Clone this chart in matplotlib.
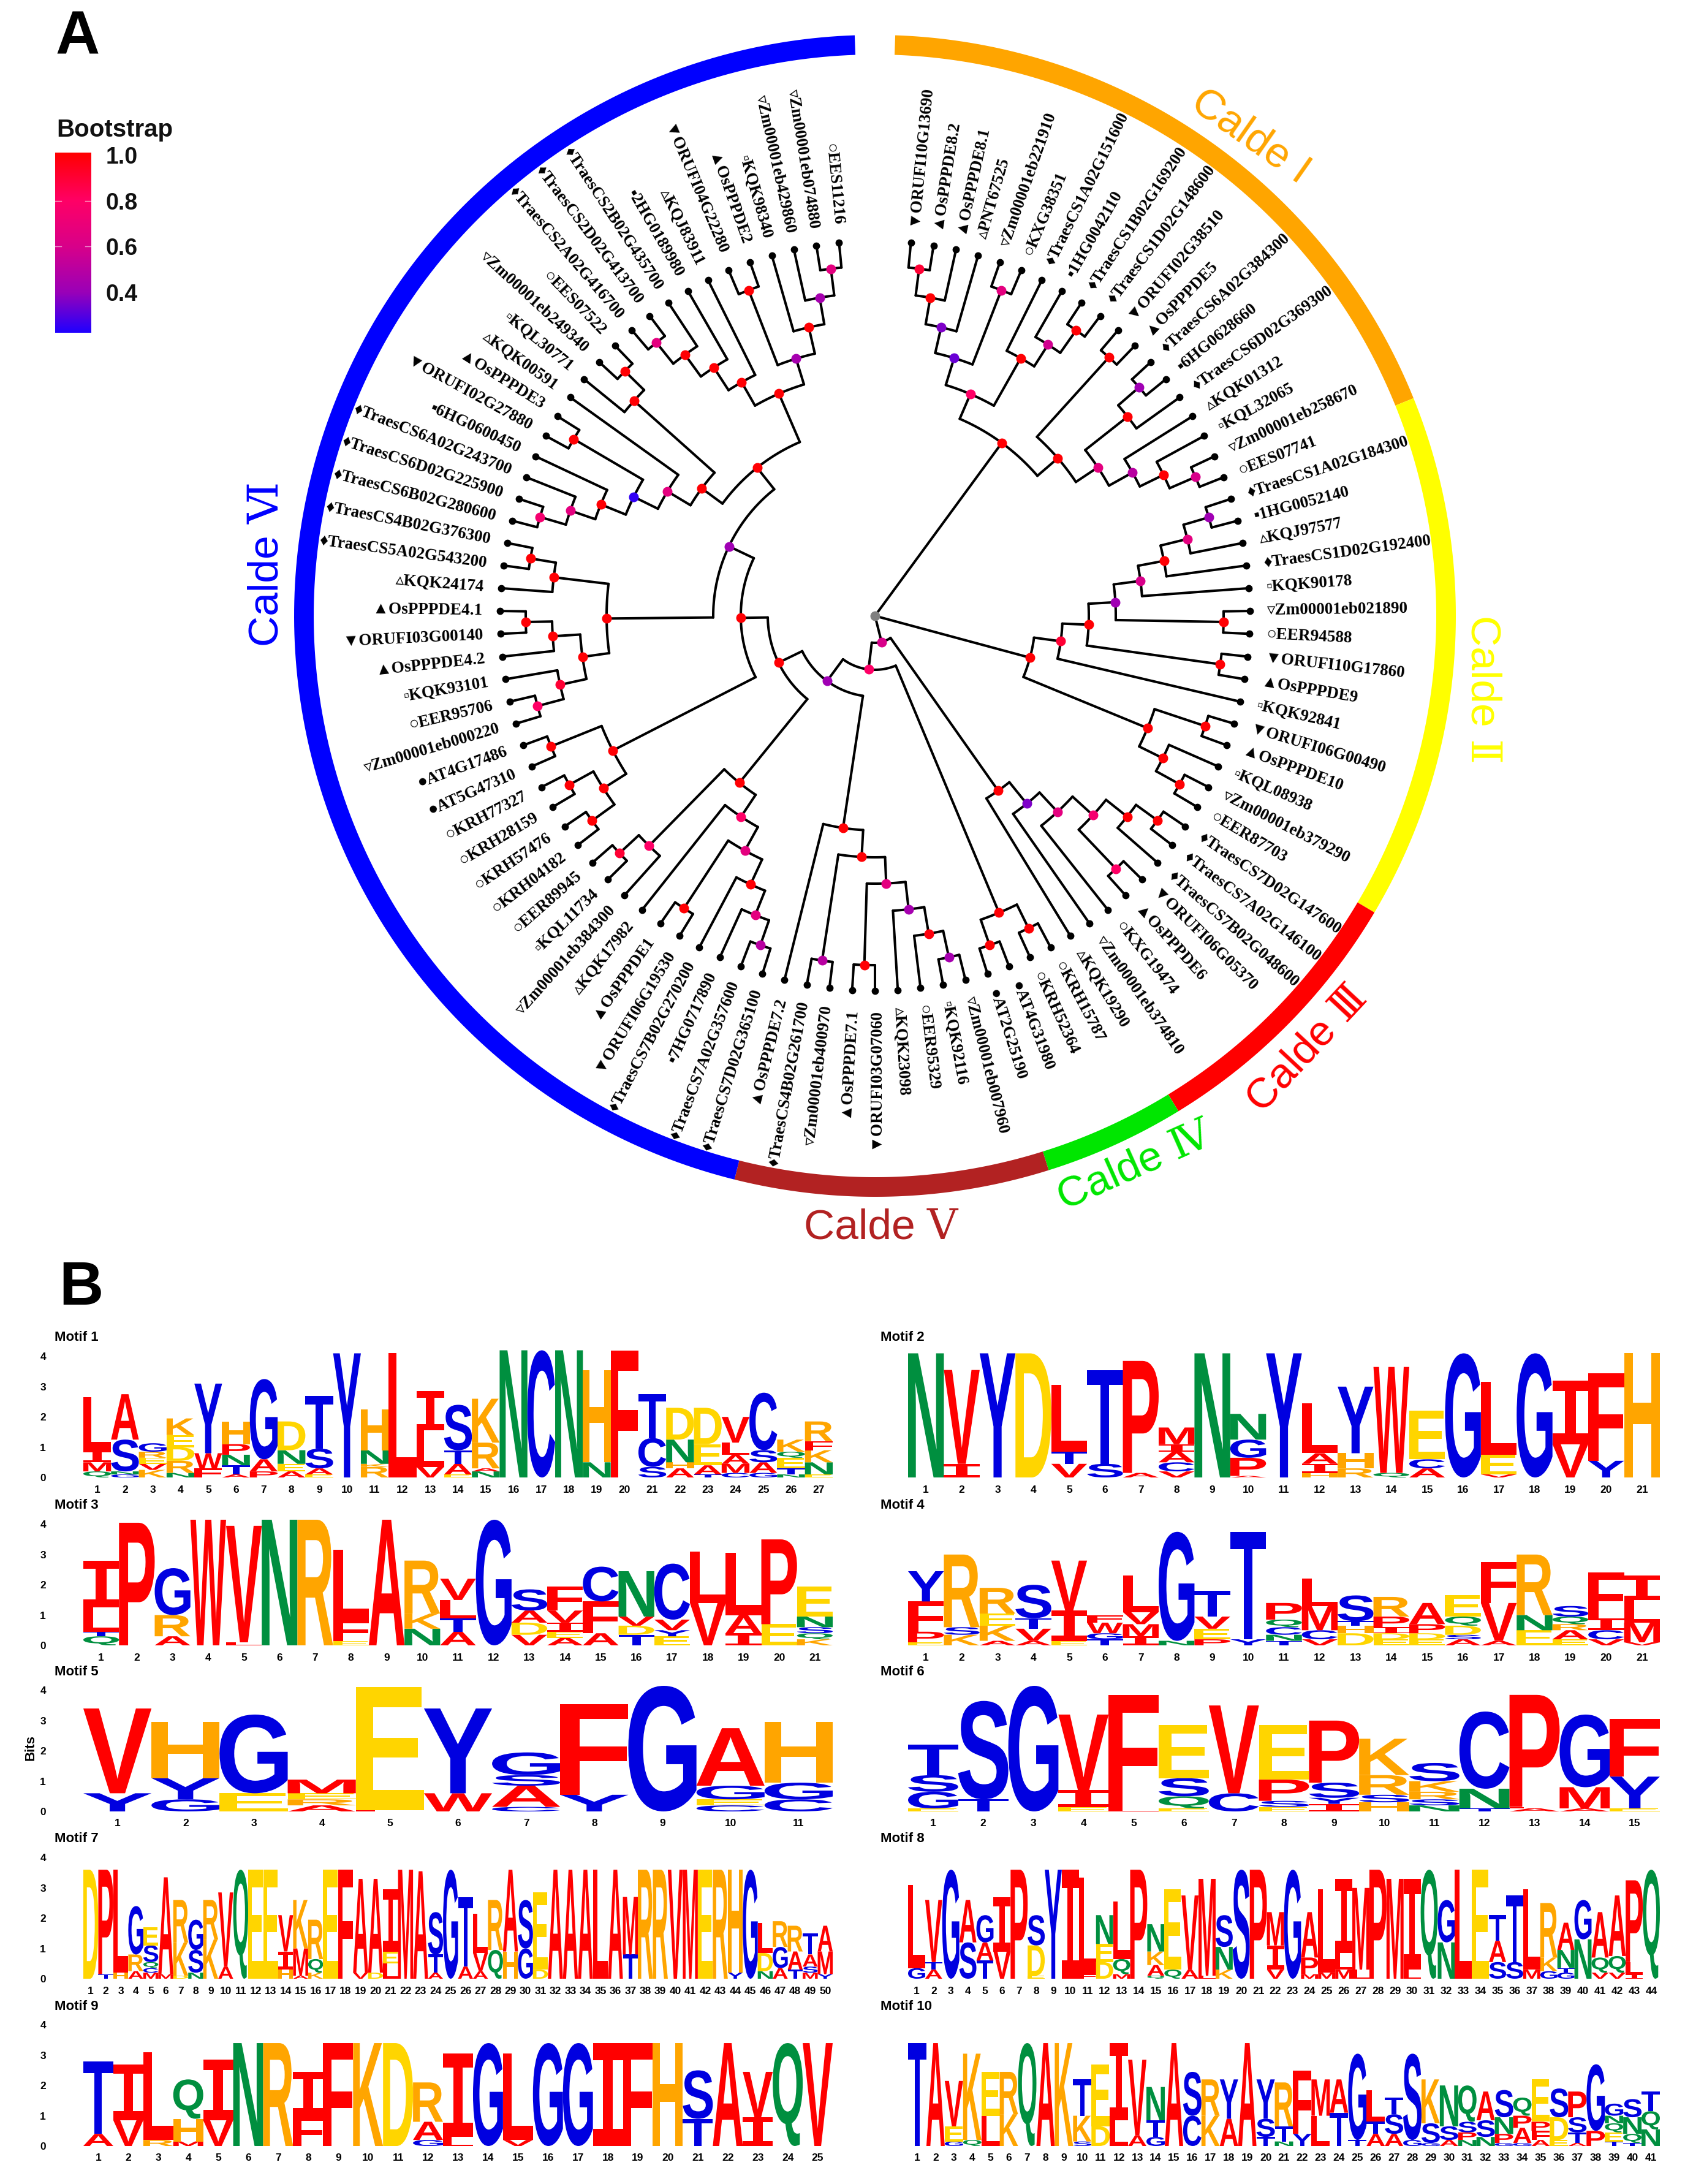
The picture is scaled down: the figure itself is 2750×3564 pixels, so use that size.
import numpy as np
import matplotlib
matplotlib.use("Agg")
import matplotlib.pyplot as plt
from matplotlib.colors import LinearSegmentedColormap
from matplotlib.font_manager import FontProperties
from matplotlib.patches import PathPatch
from matplotlib.textpath import TextPath
from matplotlib.transforms import Affine2D

W, H = 2750, 3564

# tree tips, clockwise from the top
leaf_labels = [
    "▼ORUFI10G13690", "▲OsPPPDE8.2", "▲OsPPPDE8.1", "▵PNT67525", "▿Zm00001eb221910", "○KXG38351",
    "♦TraesCS1A02G151600", "▪1HG0042110", "♦TraesCS1B02G169200", "♦TraesCS1D02G148600",
    "▼ORUFI02G38510", "▲OsPPPDE5", "♦TraesCS6A02G384300", "▪6HG0628660", "♦TraesCS6D02G369300",
    "▵KQK01312", "▫KQL32065", "▿Zm00001eb258670", "○EES07741",
    "♦TraesCS1A02G184300", "▪1HG0052140", "▵KQJ97577", "♦TraesCS1D02G192400", "▫KQK90178",
    "▿Zm00001eb021890", "○EER94588", "▼ORUFI10G17860", "▲OsPPPDE9", "▫KQK92841", "▼ORUFI06G00490",
    "▲OsPPPDE10", "▫KQL08938", "▿Zm00001eb379290", "○EER87703",
    "♦TraesCS7D02G147600", "♦TraesCS7A02G146100", "♦TraesCS7B02G048600", "▼ORUFI06G05370",
    "▲OsPPPDE6", "○KXG19474", "▿Zm00001eb374810", "▵KQK19290", "○KRH15787", "○KRH52364",
    "●AT4G31980", "●AT2G25190", "▿Zm00001eb007960",
    "▫KQK92116", "○EER95329", "▵KQK23098", "▼ORUFI03G07060", "▲OsPPPDE7.1", "▿Zm00001eb400970",
    "♦TraesCS4B02G261700", "▲OsPPPDE7.2", "♦TraesCS7D02G365100", "♦TraesCS7A02G357600",
    "▪7HG0717890", "♦TraesCS7B02G270200", "▼ORUFI06G19530", "▲OsPPPDE1", "▵KQK17982",
    "▿Zm00001eb384300", "▫KQL11734", "○EER89945", "○KRH04182", "○KRH57476", "○KRH28159",
    "○KRH77327", "●AT5G47310", "●AT4G17486", "▿Zm00001eb000220", "○EER95706", "▫KQK93101",
    "▲OsPPPDE4.2", "▼ORUFI03G00140", "▲OsPPPDE4.1", "▵KQK24174", "♦TraesCS5A02G543200",
    "♦TraesCS4B02G376300", "♦TraesCS6B02G280600", "♦TraesCS6D02G225900", "♦TraesCS6A02G243700",
    "▪6HG0600450", "▼ORUFI02G27880", "▲OsPPPDE3", "▵KQK00591", "▫KQL30771", "▿Zm00001eb249340",
    "○EES07522", "♦TraesCS2A02G416700", "♦TraesCS2D02G413700", "♦TraesCS2B02G435700",
    "▪2HG0189980", "▵KQJ83911", "▼ORUFI04G22280", "▲OsPPPDE2", "▫KQK98340", "▿Zm00001eb429860",
    "▿Zm00001eb074880", "○EES11216",
]

# (radius, bootstrap, children...), an int child is an index into leaf_labels
clade_a = (350, 1.0,
    (394, .8,
        (440, .33,
            (483, .36, (527, 1.0, (571, .9, 0, 1), 2), 3),
            (570, .66, 4, 5)),
        (483, 1.0, 6, (525, .58, 7, (570, 1.0, 8, 9)))),
    (394, 1.0,
        (569, 1.0, 10, 11),
        (437, .66,
            (525, 1.0, (570, .42, 12, 13), 14),
            (481, .5, 15, (524, 1.0, 16, (570, .6, 17, 18))))))

clade_b = (262, 1.0,
    (306, .9,
        (349, 1.0,
            (393, .42,
                (437, .6, (480, 1.0, (525, .66, (568, .42, 19, 20), 21), 22), 23),
                (569, 1.0, 24, 25)),
            (569, 1.0, 26, 27)),
        28),
    (481, 1.0, (568, 1.0, 29, 30), (524, 1.0, 31, (568, 1.0, 32, 33))))

clade_c = (44, .6,
    (349, 1.0,
        (394, .36,
            (437, .66,
                (482, .75, (526, 1.0, (569, 1.0, 34, 35), 36), (570, .8, 37, 38)),
                39),
            40),
        41),
    (88, .8,
        (525, 1.0, (568, 1.0, 42, 43), (569, 1.0, 44, 45)),
        (132, .42,
            (350, 1.0,
                (394, 1.0,
                    (437, .66,
                        (482, .44, (526, .98, (570, .44, 46, 47), 48), 49),
                        (570, 1.0, 50, 51)),
                    (569, .5, 52, 53)),
                54),
            (175, 1.0,
                (351, 1.0,
                    (394, .8,
                        (438, .66,
                            (483, 1.0, (526, .66, (569, .5, 55, 56), 57), 58),
                            (570, 1.0, 59, 60)),
                        61),
                    (526, .8, 62, (569, .9, 63, 64))),
                (219, 1.0,
                    (481, 1.0,
                        (525, 1.0, (570, 1.0, 65, 66), (570, 1.0, 67, 68)),
                        (570, 1.0, 69, 70)),
                    (264, .42,
                        (438, 1.0,
                            (482, 1.0,
                                (526, .9, (570, .8, 71, 72), 73),
                                (527, 1.0, 74, (570, 1.0, 75, 76))),
                            (528, 1.0, 77, (570, 1.0, 78, 79))),
                        (309, 1.0,
                            (351, 1.0,
                                (395, .66,
                                    (439, .25,
                                        (483, 1.0, (526, .66, (570, .75, 80, 81), 82), 83),
                                        (570, 1.0, 84, 85)),
                                    86),
                                (527, 1.0, 87, (571, 1.0, 88, 89))),
                            (395, 1.0,
                                (439, 1.0,
                                    (483, 1.0, (527, 1.0, (571, .66, 90, 91), 92), 93),
                                    94),
                                (439, .44,
                                    (570, 1.0, 95, 96),
                                    (483, 1.0, 97, (527, .44, 98, (571, .66, 99, 100))))))))))))

ring_names = ["Calde I", "Calde Ⅱ", "Calde Ⅲ", "Calde Ⅳ", "Calde Ⅴ", "Calde Ⅵ"]
ring_colors = ["#FFA500", "#FFFF00", "#FF0000", "#00E600", "#B22222", "#0000FF"]
ring_starts = [2, 68, 120.7, 148.5, 162.6, 194]
ring_ends = [68, 120.7, 148.5, 162.6, 194, 358]
ring_label_x = [2041, 2420, 2134, 1852, 1438, 436]
ring_label_y = [223, 1125, 1712, 1904, 2003, 920]
ring_label_rot = [-35, -90, 47, 24, 0, 90]

bootstrap_ticks = [1.0, 0.8, 0.6, 0.4]
bootstrap_min = 0.224
bootstrap_max = 1.01
bootstrap_stops = [0.224, 0.4, 0.6, 0.8, 1.01]
bootstrap_stop_colors = ["#2000FF", "#9A00B8", "#D8008A", "#FF0066", "#FF0000"]

letter_colors = {}
for ch in "AFILMPVW":
    letter_colors[ch] = "#FF0000"
for ch in "CGSTY":
    letter_colors[ch] = "#0000E0"
for ch in "NQ":
    letter_colors[ch] = "#008F3F"
for ch in "DE":
    letter_colors[ch] = "#FFD500"
for ch in "HKR":
    letter_colors[ch] = "#FFA500"

# each string is one logo column, bottom to top: letter + height in bits
motif_1 = ["Q.2 M.3 I.4 L1.75", "G.1 N.1 S1.05 A1.5", "K.25 V.2 E.2 R.2 G.28", "N.15 R.4 D.45 E.4 K.55",
           "F.3 W.5 Y2.3", "A.1 T.3 N.35 P.35 H.75", "P.2 A.4 G2.65", "A.2 E.25 N.45 D.95",
           "E.1 A.2 S.65 T1.75", "Y4.1", "R.35 K.1 N.45 H1.35", "L4.1", "V.35 L1.2 I1.3",
           "E.1 A.35 T.45 S1.5", "N.2 A.1 R.85 K1.45", "N4.2", "C4.2", "N4.2", "N.5 H3.05", "F4.2",
           "S.35 C.95 T1.45", "A.3 H.2 N.75 D1.05", "T.1 A.3 E.7 D1.2", "C.15 M.3 A.3 L.4 V.85",
           "G.15 A.35 S.4 C1.9", "N.1 T.2 E.35 Q.2 K.4", "E.1 N.4 K.4 F.3 R.65"]
motif_2 = ["N4.1", "I.45 V3.1", "Y4.1", "D4.1", "V.45 T.4 L2.2", "S.45 T3.1", "A.15 P3.7",
           "V.2 C.3 A.35 I.25 M.55", "N4.1", "A.05 P.6 G.6 N.85", "Y4.1", "H.15 I.3 A.35 L1.65",
           "R.3 H.5 Y2.2", "Q.15 W3.5", "A.3 C.3 E1.6", "G4.1", "V.1 E.65 L2.4", "G4.1", "V1.1 I2.1",
           "Y.55 F2.9", "H4.1"]
motif_3 = ["Q.3 T.15 L.8 I1.55", "P4.05", "A.3 R.7 G1.55", "W4.15", "L.1 V3.85", "N4.15", "R4.15",
           "E.15 F.7 L2.3", "A4.15", "N.55 K.5 R1.75", "A.45 T.45 L.6 V.7", "G4.15", "V.35 D.4 A.4 S.7",
           "A.25 E.2 I.3 V.4 F.8", "A.4 F1.05 C1.15", "T.35 D.3 V.3 N1.5", "E.3 Y.2 V.35 C1.85",
           "V1.4 L1.7", "I.4 A.6 L2.05", "E.7 P2.8", "K.2 Q.2 S.2 N.35 E1.0"]
motif_4 = ["E.1 P.35 F1.0 Y1.0", "K.35 S.25 R2.4", "A.15 K.5 E.4 R.85", "A.15 V.4 T.35 S1.1",
           "E.15 I1.0 V1.65", "T.2 G.2 W.35 F.25", "I.3 M.4 V.4 L1.2", "N.15 G3.6", "P.2 E.35 V.4 T.85",
           "Y.2 T3.55", "T.15 N.2 C.25 Q.25 P.55", "V.2 C.3 M.8 L.9", "D.4 H.25 T.15 S.85",
           "E.2 D.2 I.2 P.35 R.65", "E.2 D.2 P.3 A.7", "A.2 S.15 D.3 Q.3 E.7", "A.15 V1.25 F1.35",
           "E.5 N.5 R2.0", "E.2 A.3 R.2 Q.25 S.35", "V.2 C.3 I.4 F1.5", "V.1 M.65 L.75 I.8"]
motif_5 = ["Y.6 V2.8", "G.4 Y.7 H1.85", "E.6 G2.6", "A.2 R.2 E.2 M.45", "L.05 E4.05", "W.6 Y2.8",
           "C.15 A.7 S.35 G.75", "Y.55 F3.0", "G4.15", "C.2 E.2 G.45 A1.9", "C.4 G.55 H2.0"]
motif_6 = ["E.1 G.55 S.55 T1.0", "T.4 S3.25", "G4.15", "E.15 I.55 V2.5", "L.15 F3.7", "E.1 Q.4 S.6 E1.75",
           "C.6 V2.9", "E.15 S.2 P.7 E1.8", "I.25 Y.2 S.5 P2.05", "H.3 S.25 R.65 K1.2",
           "N.2 S.2 R.25 K.35 S.6", "T.1 N.65 C2.55", "A.1 L.05 P3.7", "A.1 M.7 G2.4", "E.1 Y1.05 F1.9"]
motif_7 = ["D3.6", "T.15 P3.45", "H.2 L3.4", "A.25 R.55 G1.6", "M.2 C.15 Q.2 S.55 E.6", "M.15 A3.2",
           "D.1 K1.1 R1.4", "N.2 S.75 G1.0", "K1.3 R1.3", "A.4 V2.45", "Q3.6", "E3.6", "E3.6",
           "H.3 I.6 V1.2", "A.1 M.9 K1.6", "K.2 Q.45 R1.3", "E3.6", "F3.6", "V.2 A3.1", "D.2 A3.1",
           "L.5 E.4 I2.05", "M3.6", "A3.55", "A.2 T.6 S1.4", "G3.6", "A.4 T2.3", "A.25 V.6 L1.3",
           "Q.95 R1.65", "H.9 A2.7", "G1.0 S1.6", "D.3 E2.55", "A3.6", "A3.6", "A3.6", "L3.6", "A3.6",
           "T.8 M1.9", "R3.6", "R3.6", "V3.6", "M3.6", "E3.6", "R3.6", "Y.2 H3.4", "G3.6",
           "N.25 D.6 L1.0", "A.35 G.7 R.85", "T.3 A.6 R.85", "M.2 S.2 A.4 T.7", "Y.15 M.75 A.85"]
motif_8 = ["G.35 L2.75", "A.3 T.25 V2.05", "G3.6", "S1.2 A1.4", "T.6 A.6 G.9", "V.9 I1.8", "P3.6",
           "E.1 D1.0 S1.0", "Y3.6", "I3.6", "F.15 L3.2", "D.55 E.6 N.95", "M.15 Q.5 L1.9", "P3.6",
           "Q.1 A.35 K.45 N.9", "Q.3 E2.65", "A.3 V2.45", "L.1 M3.2", "K.3 N.75 S1.05", "S3.6", "P3.6",
           "V.3 I.8 M1.1", "G3.6", "M.15 P.55 A1.5", "M.2 L2.75", "M.3 L.55 I2.45", "L.3 M2.7", "P3.6",
           "M3.3", "L.3 I3.0", "Q3.6", "N1.2 G1.4", "L3.6", "E3.6", "S.55 A.7 T.85", "S.55 T2.2",
           "M.3 L2.65", "G.25 K.45 R1.8", "G.2 T.15 N.6 A.9", "N1.3 G1.3", "V.2 Q.5 A1.5",
           "V.2 Q.55 A2.0", "I.15 L.4 P2.7", "Q3.6"]
motif_9 = ["A.4 T2.4", "V.85 I1.85", "R.2 L2.9", "M.15 H.75 Q1.3", "V.85 I2.0", "N3.4", "R3.4",
           "F1.0 I1.45", "F3.4", "K3.4", "D3.4", "G.2 A.6 R1.3", "L.3 I2.75", "G3.4", "V.2 L2.85",
           "G3.4", "G3.4", "I3.4", "F3.4", "H3.4", "T.9 S1.6", "A3.4", "I.95 V1.5", "Q3.4", "V3.4"]
motif_10 = ["T3.4", "A3.4", "G.15 E.5 V1.5", "Q.2 K2.85", "L1.0 E1.45", "K1.05 R1.4", "Q3.4", "A3.4", "K3.4",
            "S.15 K.85 T1.2", "D.65 E2.05", "L.85 I2.55", "A.35 V2.5", "G.3 T.55 N1.1", "A3.4",
            "C1.0 S1.45", "K1.0 R1.2", "A.9 Y1.3", "A3.4", "T.3 S.6 Y1.3", "N.15 T.5 R1.45", "Y.4 F2.1",
            "L1.0 M1.2", "T1.1 A1.1", "T.2 G2.85", "A.4 T.4 L1.05", "A.4 S.65 T.55", "G.2 S2.85",
            "G.1 S.65 K1.45", "A.2 S.45 N1.35", "N.2 P.25 S.35 Q1.2", "N.3 S.55 A.95", "G.1 P.3 N.55 S.9",
            "G.1 A.5 P.4 Q.6", "A.2 F.3 P.3 E1.4", "E.2 D.75 S.95", "A.1 T.35 S.5 P.85", "P.5 G2.2",
            "T.15 E.3 Q.3 N.25 G.4", "T.1 Q.3 N.55 S.6", "N.55 Q.6 T.65"]
motifs = [motif_1, motif_2, motif_3, motif_4, motif_5, motif_6, motif_7, motif_8, motif_9, motif_10]

fig = plt.figure(figsize=(W / 100, H / 100), dpi=100, facecolor="white")
ax = fig.add_axes([0, 0, 1, 1])
ax.set_xlim(0, W)
ax.set_ylim(H, 0)
ax.axis("off")

cx, cy = 1428, 1005
first_tip = 5.5
tip_step = 3.49
tip_r = 612
label_r = 640
serif = ["Liberation Serif", "DejaVu Sans"]
span = bootstrap_max - bootstrap_min
bootstrap_cmap = LinearSegmentedColormap.from_list(
    "bootstrap", [((v - bootstrap_min) / span, c) for v, c in zip(bootstrap_stops, bootstrap_stop_colors)])


def polar(r, deg):
    a = np.radians(deg)
    return cx + r * np.sin(a), cy - r * np.cos(a)


def node_color(value):
    return bootstrap_cmap((value - bootstrap_min) / span)


def child_radius(child):
    return tip_r if isinstance(child, int) else child[0]


def draw_node(node):
    """Draws one subtree, returns the angle of its root."""
    r, boot = node[0], node[1]
    angles = []
    for child in node[2:]:
        if isinstance(child, int):
            angle = first_tip + child * tip_step
            x, y = polar(tip_r, angle)
            ax.plot(x, y, "o", color="black", ms=7.5, zorder=4)
        else:
            angle = draw_node(child)
        x, y = polar(np.array([r, child_radius(child)]), angle)
        ax.plot(x, y, color="black", lw=2.9, zorder=2, solid_capstyle="round")
        angles.append(angle)
    x, y = polar(r, np.linspace(angles[0], angles[-1], 40))
    ax.plot(x, y, color="black", lw=2.9, zorder=2, solid_capstyle="round")
    mid = (angles[0] + angles[-1]) / 2
    x, y = polar(r, mid)
    ax.plot(x, y, "o", color=node_color(boot), ms=10.5, zorder=5)
    return mid


# root joins the three big clades with plain spokes
for clade in [clade_a, clade_b, clade_c]:
    angle = draw_node(clade)
    x, y = polar(np.array([0, clade[0]]), angle)
    ax.plot(x, y, color="black", lw=2.9, zorder=2)
ax.plot(cx, cy, "o", color="#808080", ms=10.5, zorder=5)

for i, label in enumerate(leaf_labels):
    angle = first_tip + i * tip_step
    x, y = polar(label_r, angle)
    if angle < 180:
        rot, ha = 90 - angle, "left"
    else:
        rot, ha = 270 - angle, "right"
    ax.text(x, y, label, rotation=rot, ha=ha, va="center", rotation_mode="anchor",
            family=serif, weight="bold", fontsize=19.5, color="black")

for i in range(len(ring_names)):
    deg = np.linspace(ring_starts[i], ring_ends[i], 200)
    xo, yo = polar(948, deg)
    xi, yi = polar(916, deg[::-1])
    ax.fill(np.r_[xo, xi], np.r_[yo, yi], color=ring_colors[i], lw=0, zorder=3)
    ax.text(ring_label_x[i], ring_label_y[i], ring_names[i], color=ring_colors[i], fontsize=50,
            rotation=ring_label_rot[i], ha="center", va="center", rotation_mode="anchor",
            family=["Liberation Sans", "DejaVu Serif"])

ax.text(127, 62, "A", fontsize=72, weight="bold", family="Liberation Sans", ha="center", va="center")
ax.text(132, 2103, "B", fontsize=72, weight="bold", family="Liberation Sans", ha="center", va="center")

# bootstrap legend
ax.text(187, 212, "Bootstrap", fontsize=29, weight="bold", family="Liberation Sans",
        ha="center", va="center", color="#111111")
cax = fig.add_axes([90 / W, 1 - 543 / H, 59 / W, 294 / H])
gradient = np.linspace(1, 0, 256).reshape(-1, 1)
cax.imshow(gradient, aspect="auto", cmap=bootstrap_cmap, extent=[0, 1, bootstrap_min, bootstrap_max], vmin=0, vmax=1)
cax.set_xticks([])
cax.yaxis.tick_right()
cax.set_yticks(bootstrap_ticks, [f"{v:.1f}" for v in bootstrap_ticks], fontsize=27, weight="bold",
               color="#111111", family="Liberation Sans")
cax.tick_params(length=0, pad=17)
for v in bootstrap_ticks[1:3]:
    cax.plot([0, 0.17], [v, v], color="white", lw=1, alpha=0.6)
    cax.plot([0.83, 1], [v, v], color="white", lw=1, alpha=0.6)
cax.set_xlim(0, 1)
cax.set_ylim(bootstrap_min, bootstrap_max)
for spine in cax.spines.values():
    spine.set_visible(False)

# motif logos
col_x = [(136, 1359), (1482, 2709)]
row_zero = [2411, 2685, 2956, 3229, 3502]
bit_px = 49.4
font_sans = FontProperties(family="Liberation Sans", weight="bold")
font_mono = FontProperties(family="Liberation Mono", weight="bold")


def draw_letter(logo_ax, ch, pos, bottom, height):
    tp = TextPath((0, 0), ch, size=1, prop=font_mono if ch == "I" else font_sans)
    box = tp.get_extents()
    tr = (Affine2D().translate(-box.x0, -box.y0)
          .scale(1.0 / box.width, height / box.height)
          .translate(pos - 0.5, bottom))
    logo_ax.add_patch(PathPatch(tr.transform_path(tp), fc=letter_colors[ch], lw=0, clip_on=False))


for m, columns in enumerate(motifs):
    row, side = m // 2, m % 2
    x0, x1 = col_x[side]
    zero = row_zero[row]
    logo_ax = fig.add_axes([x0 / W, 1 - zero / H, (x1 - x0) / W, 4 * bit_px / H])
    logo_ax.patch.set_visible(False)
    logo_ax.set_xlim(0.5, len(columns) + 0.5)
    logo_ax.set_ylim(0, 4)
    for p, column in enumerate(columns):
        bottom = 0
        for token in column.split():
            height = float(token[1:])
            draw_letter(logo_ax, token[0], p + 1, bottom, height)
            bottom += height
    for spine in logo_ax.spines.values():
        spine.set_visible(False)
    logo_ax.set_xticks(range(1, len(columns) + 1))
    logo_ax.tick_params(axis="x", length=0, pad=9, labelsize=12.5)
    if side == 0:
        logo_ax.set_yticks(range(5))
        logo_ax.tick_params(axis="y", length=0, pad=44, labelsize=12.5)
    else:
        logo_ax.set_yticks([])
    for tick in logo_ax.get_xticklabels() + logo_ax.get_yticklabels():
        tick.set_family("Liberation Sans")
        tick.set_weight("bold")
    title_x = 89 if side == 0 else 1437
    ax.text(title_x, zero - 228, f"Motif {m + 1}", fontsize=16, weight="bold", family="Liberation Sans",
            ha="left", va="center")

ax.text(50, 2852, "Bits", fontsize=16, weight="bold", family="Liberation Sans", rotation=90,
        ha="center", va="center")

fig.savefig("out.png", dpi=100)
